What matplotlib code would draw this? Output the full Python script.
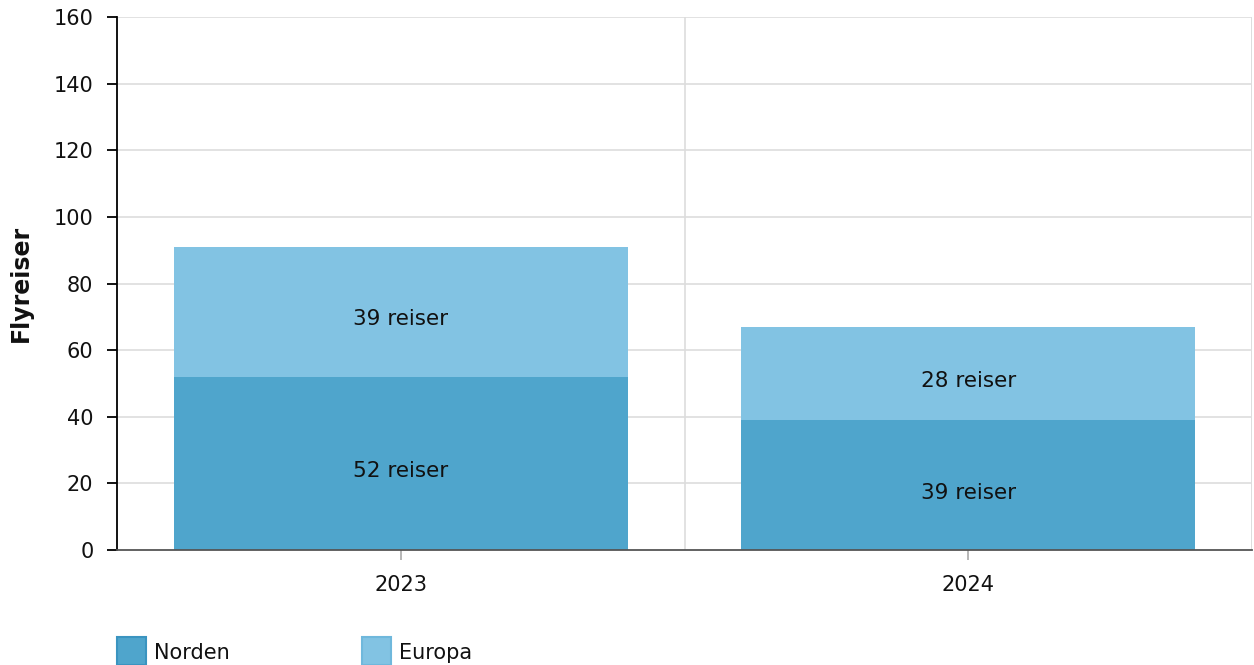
import matplotlib
matplotlib.use("Agg")
import matplotlib.pyplot as plt
from matplotlib.patches import Rectangle
import numpy as np

categories = ["2023", "2024"]
norden = [52, 39]
europa = [39, 28]
series_names = ["Norden", "Europa"]
colors = ["#4fa5cc", "#82c3e3"]
edge_colors = ["#3a94c0", "#6fb8dc"]
y_ticks = [0, 20, 40, 60, 80, 100, 120, 140, 160]

plt.rcParams['font.family'] = ['DejaVu Sans']

W, H = 1254, 665
fig = plt.figure(figsize=(W / 100, H / 100), dpi=100)
ax = fig.add_axes([117 / W, (H - 550) / H, (1252 - 117) / W, (550 - 17) / H])

x = np.arange(len(categories))
ax.bar(x, norden, width=0.8, color=colors[0], zorder=3, linewidth=0)
ax.bar(x, europa, width=0.8, bottom=norden, color=colors[1], zorder=3, linewidth=0)

for i in range(len(categories)):
    ax.annotate(f"{norden[i]} reiser", (x[i], norden[i] / 2), xytext=(0, -5.5),
                textcoords="offset points", ha="center", va="center",
                fontsize=15.5, color="#111111", zorder=5)
    ax.annotate(f"{europa[i]} reiser", (x[i], norden[i] + europa[i] / 2), xytext=(0, -5.5),
                textcoords="offset points", ha="center", va="center",
                fontsize=15.5, color="#111111", zorder=5)

ax.set_xlim(-0.5, len(categories) - 0.5)
ax.set_ylim(0, 160)
ax.set_yticks(y_ticks)
ax.set_yticklabels([str(v) for v in y_ticks])
ax.set_xticks(x)
ax.set_xticklabels(categories)

# grid lines
for v in y_ticks[1:]:
    ax.axhline(v, color="#dddddd", linewidth=1.2, zorder=1)
for b in np.arange(0.5, len(categories), 1.0):
    ax.axvline(b, color="#dddddd", linewidth=1.2, zorder=1)
ax.axvline(len(categories) - 0.5, color="#dddddd", linewidth=2, zorder=1)

for s in ["top", "right"]:
    ax.spines[s].set_visible(False)
ax.spines["left"].set_color("black")
ax.spines["left"].set_linewidth(1.3)
ax.spines["bottom"].set_color("#555555")
ax.spines["bottom"].set_linewidth(1.3)
ax.spines["bottom"].set_zorder(4)

ax.tick_params(axis="y", length=7.5, width=1.3, color="black", labelsize=15, pad=9.5, labelcolor="#111111")
ax.tick_params(axis="x", length=7, width=1.2, color="#aaaaaa", labelsize=15, pad=11, labelcolor="#111111")

fig.text(21 / W, 1 - 283 / H, "Flyreiser", rotation=90, ha="center", va="center",
         fontsize=17, fontweight="bold", color="#111111")

# legend
legend_x = [117, 362]
for i, name in enumerate(series_names):
    fig.patches.append(Rectangle((legend_x[i] / W, 0 / H), 29 / W, 28 / H,
                                 transform=fig.transFigure, facecolor=colors[i],
                                 edgecolor=edge_colors[i], linewidth=1.5))
    fig.text((legend_x[i] + 37) / W, 1 - 653 / H, name, ha="left", va="center",
             fontsize=15, color="#111111")

fig.savefig("out.png", dpi=100)
